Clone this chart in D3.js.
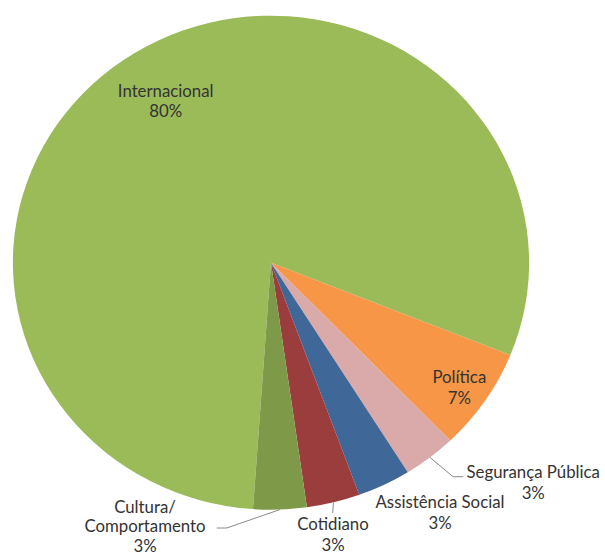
<!DOCTYPE html>
<html>
<head>
<meta charset="utf-8">
<script src="https://cdn.jsdelivr.net/npm/d3@7"></script>
<style>
  html, body { margin: 0; padding: 0; background: #fff; }
  svg { display: block; }
  text { font-family: Lato, "Open Sans", sans-serif; fill: #333; }
</style>
</head>
<body>
<svg id="chart" width="605" height="556"></svg>
<script>
// Subjects of the news items (counts)
const categories = ["Internacional", "Política", "Segurança Pública", "Assistência Social", "Cotidiano", "Cultura/ Comportamento"];
const counts = [24, 2, 1, 1, 1, 1];
const colors = ["#9BBB59", "#F79646", "#D9AAA9", "#3F6899", "#9B3D3D", "#7E9A48"];

// Label lines (category names split where they wrap)
const labelLines = [["Internacional"], ["Política"], ["Segurança Pública"], ["Assistência Social"], ["Cotidiano"], ["Cultura/", "Comportamento"]];

const W = 605, H = 556;
const cx = 271, cy = 262.7;
const R = 247;          // vertical radius
const sx = 1.045;       // horizontal stretch of the pie
const lineH = 20.5;
const fontSize = 16.8;

const svg = d3.select("#chart");
const total = d3.sum(counts);
const pct = d3.format(".0%");

const startDeg = 184;
const pie = d3.pie().sort(null)
  .startAngle(startDeg * Math.PI / 180)
  .endAngle(startDeg * Math.PI / 180 + 2 * Math.PI);
const arcs = pie(counts);

const arc = d3.arc().innerRadius(0).outerRadius(R);

const g = svg.append("g").attr("transform", `translate(${cx},${cy}) scale(${sx},1)`);
g.selectAll("path")
  .data(arcs)
  .join("path")
  .attr("d", arc)
  .attr("fill", (d, i) => colors[i]);

// Point on the pie at a given radius along a slice's mid angle, in page coordinates
function polar(d, r) {
  const a = (d.startAngle + d.endAngle) / 2;
  return [cx + Math.sin(a) * r * sx, cy - Math.cos(a) * r];
}

// Label placement: inside labels sit on the mid angle; outside ones get a leader line
const layout = [
  { inside: 0.77, dy: 0 },
  { inside: 0.88, dy: 3.6 },
  { x: 466.5, y: 478.3, anchor: "start", leader: [[453, 476.7], [463.3, 476.7]] },
  { x: 440, y: 508, anchor: "middle" },
  { x: 333, y: 530, anchor: "middle", leader: [[332.7, 513]] },
  { x: 145, y: 513, anchor: "middle", spacing: 19.3, leader: [[226.7, 528], [216.7, 528]] }
];

const labels = svg.append("g");
arcs.forEach((d, i) => {
  const L = layout[i];
  const lines = labelLines[i].concat([pct(counts[i] / total)]);
  const step = L.spacing || lineH;
  let x, y0, anchor;
  if (L.inside) {
    const p = polar(d, R * L.inside);
    x = p[0];
    y0 = p[1] - (lines.length - 1) * step / 2 + 5.6 + L.dy;
    anchor = "middle";
  } else {
    x = L.x; y0 = L.y; anchor = L.anchor;
    if (L.leader) {
      const pts = [polar(d, R)].concat(L.leader);
      labels.append("path")
        .attr("d", d3.line()(pts))
        .attr("fill", "none")
        .attr("stroke", "#8a8a8a")
        .attr("stroke-width", 1);
    }
  }
  const t = labels.append("text")
    .attr("text-anchor", anchor)
    .attr("font-size", fontSize);
  lines.forEach((s, k) => {
    t.append("tspan")
      .attr("x", x)
      .attr("y", y0 + k * step)
      .text(s);
  });
  if (anchor === "start") {
    // centre the percentage under the category name
    const first = t.select("tspan").node();
    const w = first.getComputedTextLength();
    t.selectAll("tspan").filter((s, k) => k === lines.length - 1)
      .attr("x", x + w / 2).attr("text-anchor", "middle");
  }
});
</script>
</body>
</html>
